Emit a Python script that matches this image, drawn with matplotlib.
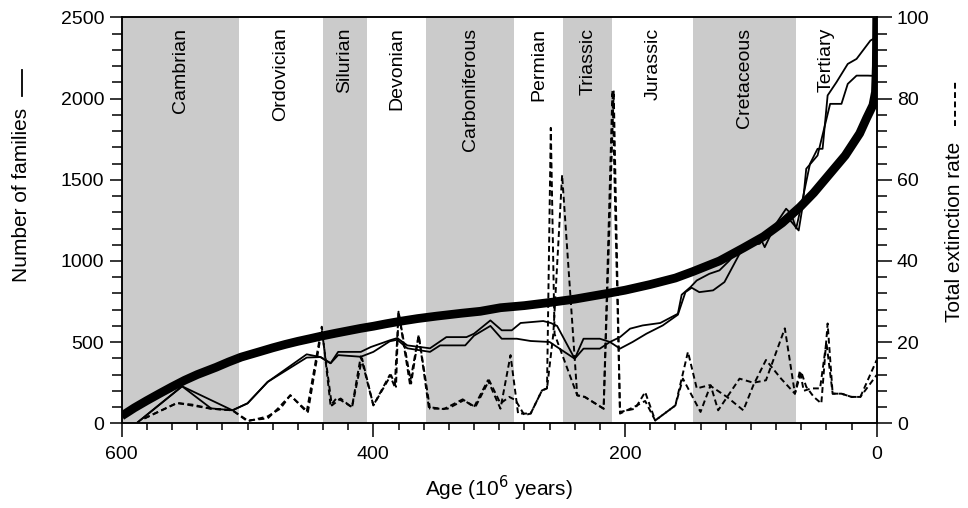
import numpy as np
import matplotlib
matplotlib.use("Agg")
import matplotlib.pyplot as plt
from matplotlib.lines import Line2D
from matplotlib.ticker import MultipleLocator
import matplotlib.transforms as mtransforms

plt.rcParams['font.family'] = ['Liberation Sans', 'DejaVu Sans']

# geological periods (boundaries in 10^6 years)
periods = ['Cambrian', 'Ordovician', 'Silurian', 'Devonian', 'Carboniferous',
           'Permian', 'Triassic', 'Jurassic', 'Cretaceous', 'Tertiary']
bounds = [600, 507, 440, 405, 358, 288, 249, 210, 146, 64, 0]

# thick smooth model curve (number of families)
model_age = [600, 590, 580, 570, 560, 550, 540, 525, 515, 505, 490, 480, 470,
             460, 450, 442, 430, 420, 410, 400, 390, 379, 365, 350, 330, 315,
             299, 280, 257, 240, 214, 200, 180, 160, 146, 125, 106, 90, 75, 61,
             50, 35, 25, 13.5, 8, 3, 1, 0.3, 0]
model_fam = [45, 95, 140, 183, 225, 265, 300, 345, 378, 408, 442, 465, 486,
             505, 522, 536, 555, 570, 585, 598, 613, 628, 645, 660, 678, 690,
             712, 725, 747, 765, 800, 820, 855, 895, 935, 1000, 1080, 1150,
             1235, 1332, 1420, 1558, 1650, 1786, 1880, 1960, 2040, 2200, 2500]

# observed number of families, two data sets
fam1_age = [587, 552, 529, 512, 500, 484, 453, 442, 434, 428, 410, 402, 387,
            381, 373, 355, 342, 326, 320, 307, 298, 290, 283, 265, 259, 254,
            240, 233, 220, 212, 204, 196, 186, 172, 158, 155, 148, 143, 133,
            125, 117, 109, 100, 93, 89, 80, 72, 68, 64, 60, 53, 47, 43, 39, 32,
            23, 16, 5, 0]
fam1 = [8, 228, 92, 80, 123, 255, 425, 408, 370, 440, 440, 470, 511,
        525, 480, 462, 531, 531, 552, 634, 573, 573, 618, 630, 618, 600,
        398, 521, 521, 501, 531, 583, 603, 618, 675, 792, 839, 880, 921,
        942, 1003, 1080, 1110, 1150, 1085, 1230, 1322, 1290, 1200, 1340, 1599,
        1691, 1691, 2020, 2101, 2214, 2245, 2358, 2380]

fam2_age = [587, 552, 512, 500, 484, 453, 442, 434, 428, 410, 400, 387, 381,
            373, 355, 347, 327, 320, 307, 298, 286, 275, 260, 254, 240, 233,
            220, 212, 204, 194, 183, 170, 158, 152, 147, 141, 130, 121, 109,
            100, 93, 86, 78, 72, 62, 59, 56, 47, 37, 28, 23, 16, 7, 1]
fam2 = [8, 228, 80, 123, 255, 405, 408, 370, 420, 410, 440, 505, 515,
        462, 440, 480, 480, 540, 600, 521, 521, 507, 501, 470, 398, 460,
        460, 501, 460, 501, 552, 603, 669, 808, 835, 808, 819, 870, 1044,
        1100, 1106, 1175, 1240, 1280, 1188, 1330, 1568, 1650, 1968, 1968, 2091,
        2142, 2142, 2140]

# total extinction rate, two data sets
extA_age = [582, 556, 544, 529, 512, 500, 484, 474, 466, 453, 441, 434, 429,
            417, 410, 400, 387, 383, 380, 371, 364, 356, 344, 329, 320, 309,
            299, 291, 285, 275, 266, 262, 259, 256, 238, 232, 217, 210, 204,
            192, 184, 176, 160, 150, 143, 133, 119, 106, 98, 88, 76, 65, 60,
            56, 50, 44, 39, 35, 28, 20, 13, 0]
extA = [1.2, 5, 4.6, 3.6, 3.2, 0.5, 1.7, 3.6, 6.9, 2.8, 23.8, 4.4, 6.3,
        4, 16.5, 4.4, 11.9, 9, 27.5, 9.8, 21.7, 4, 3.5, 5.9, 4, 10.6,
        3.6, 16.8, 2.4, 2.4, 8.1, 8.6, 72.8, 22, 6.9, 6.5, 3.6, 82, 2.8,
        3.6, 7.7, 0.7, 4.4, 17.6, 8.6, 9.4, 6.5, 3.2, 9.4, 15.6, 11, 7.3, 12.7,
        9, 6.5, 4.9, 24.6, 7.3, 7.3, 6.5, 6.5, 15.6]

extB_age = [582, 556, 529, 512, 500, 484, 476, 466, 452, 441, 433, 426, 417,
            409, 400, 386, 382, 380, 370, 364, 355, 341, 328, 319, 308, 299,
            292, 287, 280, 275, 266, 262, 257, 250, 238, 232, 217, 209, 204,
            193, 184, 176, 160, 154, 140, 132, 126, 109, 98, 88, 73, 65, 61,
            58, 52, 45, 40, 35, 28, 20, 13, 0]
extB = [1.2, 5, 3.6, 3.2, 0.7, 1.2, 3.6, 6.9, 2.8, 23, 4.4, 6.1, 3.9,
        16, 4.4, 11.9, 9, 27.5, 9.8, 21.7, 3.6, 3.6, 5.7, 4, 10.6, 4.9,
        6.5, 5.7, 2, 2.4, 8.1, 8.6, 22, 61.2, 6.9, 6.5, 3.6, 82, 2.4,
        4, 5.5, 0.7, 4.4, 11, 2.8, 9.4, 3.2, 11, 10, 10.6, 23.4, 7.3, 13,
        8, 8.6, 8.6, 20, 7.3, 7.3, 6.5, 6.5, 11.9]

fig = plt.figure(figsize=(9.68, 5.08), dpi=100)
ax = fig.add_axes([121.7 / 968, 1 - 423.3 / 508, (876.7 - 121.7) / 968, (423.3 - 17.5) / 508])
ax2 = ax.twinx()

# shaded periods (every other one)
for i in range(len(periods)):
    if i % 2 == 0:
        ax.axvspan(bounds[i], bounds[i + 1], color='#cbcbcb', lw=0, zorder=0)

trans = mtransforms.blended_transform_factory(ax.transData, ax.transAxes)
for i, name in enumerate(periods):
    xm = (bounds[i] + bounds[i + 1]) / 2
    if name == 'Tertiary':
        xm = 40
    ax.text(xm, 0.975, name, transform=trans, rotation=90, ha='center', va='top',
            fontsize=14, zorder=5)

ax.plot(model_age, model_fam, color='black', lw=6.3, solid_capstyle='butt',
        solid_joinstyle='round', zorder=3)
ax.plot(fam1_age, fam1, color='black', lw=1.3, zorder=4)
ax.plot(fam2_age, fam2, color='black', lw=1.3, zorder=4)

ax2.plot(extA_age, extA, color='black', lw=1.4, ls=(0, (3, 1.8)))
ax2.plot(extB_age, extB, color='black', lw=1.4, ls=(0, (3, 1.8)))

ax.set_xlim(600, 0)
ax.set_ylim(0, 2500)
ax2.set_ylim(0, 100)

ax.xaxis.set_major_locator(MultipleLocator(200))
ax.xaxis.set_minor_locator(MultipleLocator(20))
ax.yaxis.set_major_locator(MultipleLocator(500))
ax.yaxis.set_minor_locator(MultipleLocator(100))
ax2.yaxis.set_major_locator(MultipleLocator(20))
ax2.yaxis.set_minor_locator(MultipleLocator(4))

for a in (ax, ax2):
    for s in a.spines.values():
        s.set_linewidth(1.1)
ax.tick_params(axis='x', which='major', length=10, width=1.1, labelsize=14, pad=6)
ax.tick_params(axis='x', which='minor', length=5, width=1.1)
ax.tick_params(axis='y', which='major', length=9, width=1.1, labelsize=14)
ax.tick_params(axis='y', which='minor', length=7, width=1.1)
ax2.tick_params(axis='y', which='major', length=11, width=1.1, labelsize=14)
ax2.tick_params(axis='y', which='minor', length=7, width=1.1)

ax.set_xlabel('Age (10$^6$ years)', fontsize=15, labelpad=8)

# y labels with line-style keys
fig.text(22 / 968, 1 - 195 / 508, 'Number of families', rotation=90,
         ha='center', va='center', fontsize=15)
fig.add_artist(Line2D([22 / 968, 22 / 968], [1 - 96 / 508, 1 - 70 / 508],
                      color='black', lw=1.3))
fig.text(955 / 968, 1 - 232 / 508, 'Total extinction rate', rotation=90,
         ha='center', va='center', fontsize=15)
fig.add_artist(Line2D([955 / 968, 955 / 968], [1 - 126 / 508, 1 - 82 / 508],
                      color='black', lw=1.4, ls=(0, (3, 1.8))))

fig.savefig('out.png', dpi=100)
